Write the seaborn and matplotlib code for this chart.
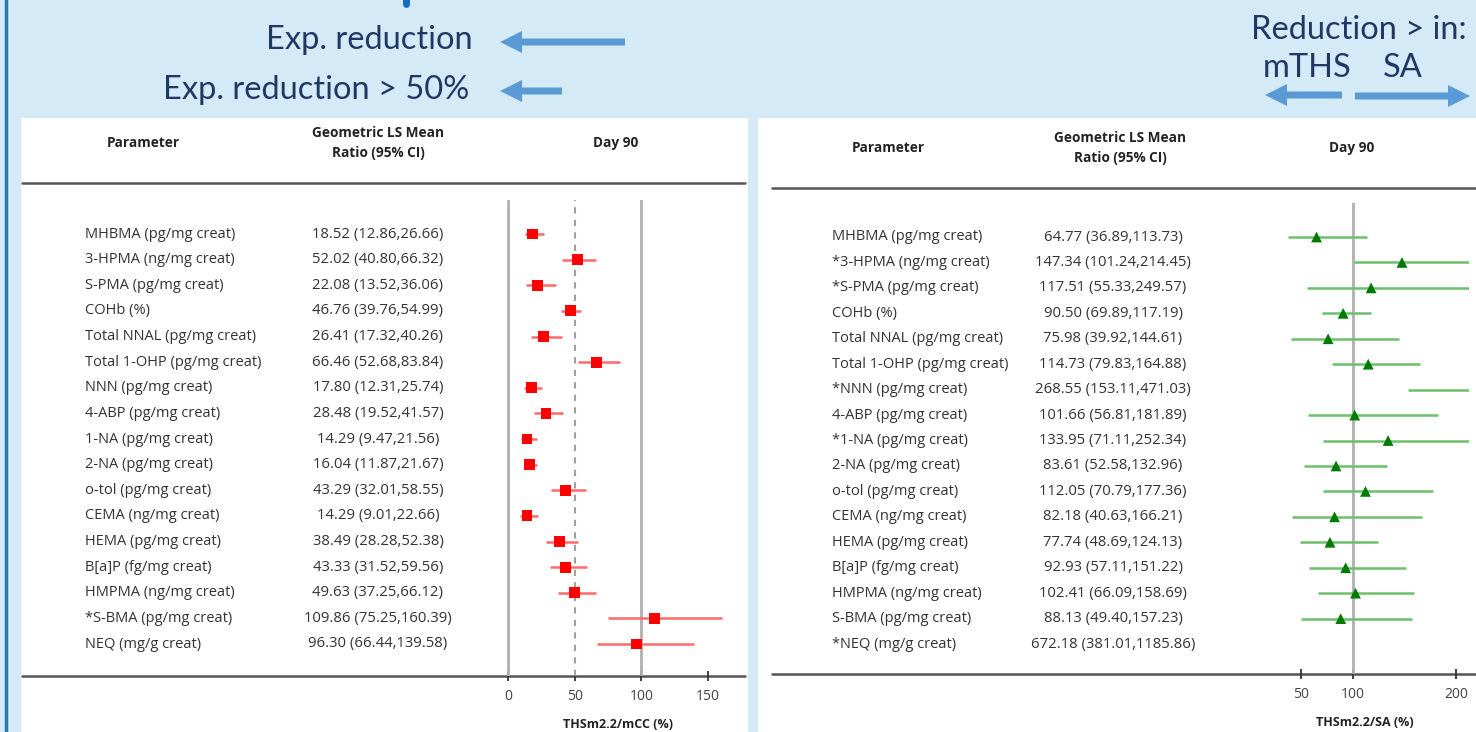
import numpy as np
import pandas as pd
import matplotlib
matplotlib.use("Agg")
import matplotlib.pyplot as plt
import seaborn as sns
from matplotlib.patches import Rectangle, FancyArrow
from matplotlib.transforms import blended_transform_factory

# data: THS vs mCC (left) and THS vs SA (right), day 90
params_mcc = ["MHBMA (pg/mg creat)", "3-HPMA (ng/mg creat)", "S-PMA (pg/mg creat)",
              "COHb (%)", "Total NNAL (pg/mg creat)", "Total 1-OHP (pg/mg creat)",
              "NNN (pg/mg creat)", "4-ABP (pg/mg creat)", "1-NA (pg/mg creat)",
              "2-NA (pg/mg creat)", "o-tol (pg/mg creat)", "CEMA (ng/mg creat)",
              "HEMA (pg/mg creat)", "B[a]P (fg/mg creat)", "HMPMA (ng/mg creat)",
              "*S-BMA (pg/mg creat)", "NEQ (mg/g creat)"]
ratio_mcc = [18.52, 52.02, 22.08, 46.76, 26.41, 66.46, 17.80, 28.48, 14.29,
             16.04, 43.29, 14.29, 38.49, 43.33, 49.63, 109.86, 96.30]
lo_mcc = [12.86, 40.80, 13.52, 39.76, 17.32, 52.68, 12.31, 19.52, 9.47,
          11.87, 32.01, 9.01, 28.28, 31.52, 37.25, 75.25, 66.44]
hi_mcc = [26.66, 66.32, 36.06, 54.99, 40.26, 83.84, 25.74, 41.57, 21.56,
          21.67, 58.55, 22.66, 52.38, 59.56, 66.12, 160.39, 139.58]

params_sa = ["MHBMA (pg/mg creat)", "*3-HPMA (ng/mg creat)", "*S-PMA (pg/mg creat)",
             "COHb (%)", "Total NNAL (pg/mg creat)", "Total 1-OHP (pg/mg creat)",
             "*NNN (pg/mg creat)", "4-ABP (pg/mg creat)", "*1-NA (pg/mg creat)",
             "2-NA (pg/mg creat)", "o-tol (pg/mg creat)", "CEMA (ng/mg creat)",
             "HEMA (pg/mg creat)", "B[a]P (fg/mg creat)", "HMPMA (ng/mg creat)",
             "S-BMA (pg/mg creat)", "*NEQ (mg/g creat)"]
ratio_sa = [64.77, 147.34, 117.51, 90.50, 75.98, 114.73, 268.55, 101.66, 133.95,
            83.61, 112.05, 82.18, 77.74, 92.93, 102.41, 88.13, 672.18]
lo_sa = [36.89, 101.24, 55.33, 69.89, 39.92, 79.83, 153.11, 56.81, 71.11,
         52.58, 70.79, 40.63, 48.69, 57.11, 66.09, 49.40, 381.01]
hi_sa = [113.73, 214.45, 249.57, 117.19, 144.61, 164.88, 471.03, 181.89, 252.34,
         132.96, 177.36, 166.21, 124.13, 151.22, 158.69, 157.23, 1185.86]

ticks_mcc = [0, 50, 100, 150]
ticks_sa = [50, 100, 200]

sns.set_theme(style="white")
plt.rcParams["font.family"] = ["Open Sans", "DejaVu Sans"]

W, H = 1476, 732
fig = plt.figure(figsize=(W / 100, H / 100), dpi=100, facecolor="#d4eaf6")

# background layer in pixel coords
bg = fig.add_axes([0, 0, 1, 1], zorder=0)
bg.set_xlim(0, W)
bg.set_ylim(H, 0)
bg.axis("off")
bg.add_patch(Rectangle((21, 118), 727, 620, facecolor="white", edgecolor="none"))
bg.add_patch(Rectangle((758, 118), 720, 620, facecolor="white", edgecolor="none"))
bg.plot([6, 6], [0, H], color="#2b7bab", lw=2.5)
bg.plot([406, 406], [-2, 4], color="#0e6fc0", lw=5, solid_capstyle="round")

navy = "#1f3864"
arrow_c = "#5b9bd5"
ann = dict(fontsize=23.5, color=navy, family=["Lato", "DejaVu Sans"], va="center")
bg.text(473, 40, "Exp. reduction", ha="right", **ann)
bg.text(469, 90, "Exp. reduction > 50%", ha="right", **ann)
bg.text(1467, 30, "Reduction > in:", ha="right", **ann)
bg.text(1307, 68, "mTHS", ha="center", **ann)
bg.text(1403, 68, "SA", ha="center", **ann)
for x0, x1, y in [(625, 500, 42), (562, 500, 91), (1342, 1265, 95), (1355, 1470, 96)]:
    bg.add_patch(FancyArrow(x0, y, x1 - x0, 0, width=7, head_width=22, head_length=22,
                            length_includes_head=True, color=arrow_c, lw=0))

txt_c = "#333333"


def panel(params, ratio, lo, hi, x_lim, ax_px, y_px, x_lab, x_ratio, x_hdr,
          hdr_y, line_x, line_y_top, line_y_bot, vlines, dashed, marker, mcol, lcol,
          ticks, xlabel):
    x0, x1 = ax_px
    yt, yb = y_px
    ax = fig.add_axes([x0 / W, (H - yb) / H, (x1 - x0) / W, (yb - yt) / H], zorder=2)
    ax.patch.set_alpha(0)
    n = len(params)
    rows = np.arange(n)
    df = pd.DataFrame({"param": params, "ratio": ratio, "lo": lo, "hi": hi, "row": rows})

    for v in vlines:
        ax.axvline(v, color="#b0b0b0", lw=2, zorder=1)
    for v in dashed:
        ax.axvline(v, color="#a0a0a0", lw=1.5, ls=(0, (3, 3)), zorder=1)
    ax.hlines(df["row"], df["lo"], df["hi"], color=lcol, lw=1.8, zorder=2)
    sns.scatterplot(data=df, x="ratio", y="row", marker=marker, color=mcol, s=60,
                    edgecolor="none", ax=ax, zorder=3, legend=False)

    ax.set_xlim(*x_lim)
    # row 0 position and spacing from the picture
    r0, step = hdr_y[1], hdr_y[2]
    ax.set_ylim((yb - r0) / step, (yt - r0) / step)
    ax.set_xticks(ticks)
    ax.set_xticklabels([str(t) for t in ticks])
    ax.set_yticks([])
    ax.set_xlabel(xlabel, fontsize=9, fontweight="bold", color="#222222", labelpad=10)
    ax.set_ylabel("")
    for s in ax.spines.values():
        s.set_visible(False)
    ax.tick_params(axis="x", direction="inout", length=7, width=1.3, color="#333333",
                   labelsize=10, labelcolor="#444444", pad=6, bottom=True)

    tr = blended_transform_factory(bg.transData, ax.transData)
    for i in range(n):
        ax.text(x_lab, i, params[i], transform=tr, ha="left", va="center",
                fontsize=10.5, color=txt_c)
        ax.text(x_ratio, i, f"{ratio[i]:.2f} ({lo[i]:.2f},{hi[i]:.2f})", transform=tr,
                ha="center", va="center", fontsize=10.7, color=txt_c)

    hy = hdr_y[0]
    hdr = dict(fontsize=9.8, fontweight="bold", color="#222222", va="center", ha="center")
    bg.text(x_hdr[0], hy, "Parameter", **hdr)
    bg.text(x_hdr[1], hy, "Geometric LS Mean\nRatio (95% CI)", linespacing=1.5, **hdr)
    bg.text(x_hdr[2], hy, "Day 90", **hdr)
    bg.plot(line_x, [line_y_top] * 2, color="#555555", lw=1.8)
    bg.plot(line_x, [line_y_bot] * 2, color="#555555", lw=1.8)
    return ax


# left: 1.333 px per unit, 0 at px 508
ax1 = panel(params_mcc, ratio_mcc, lo_mcc, hi_mcc, (-10, 175), (494.7, 741.3), (200, 676),
            85, 378, (143, 378, 616), (143, 234, 25.625), (22, 745), 183, 676,
            [0, 100], [50], "s", "#ff0000", "#ff6a6a", ticks_mcc, "THSm2.2/mCC (%)")
# right: 1.035 px per unit, 100 at px 1353
ax2 = panel(params_sa, ratio_sa, lo_sa, hi_sa, (10, 212), (1259.85, 1468.9), (203, 674),
            832, 1113, (888, 1120, 1352), (148, 237, 25.44), (772, 1476), 188, 674,
            [100], [], "^", "#007a00", "#6cc06c", ticks_sa, "THSm2.2/SA (%)")

fig.savefig("out.png", dpi=100, facecolor=fig.get_facecolor())
